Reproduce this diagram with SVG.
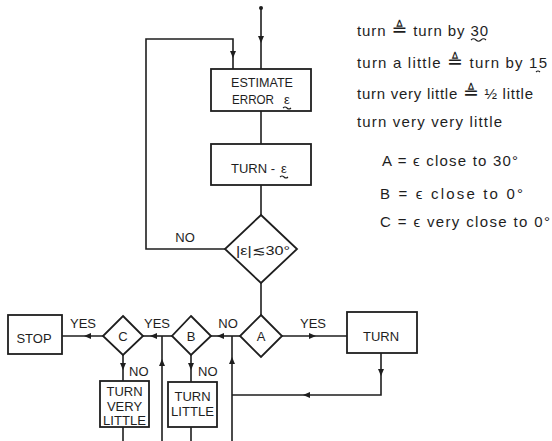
<svg xmlns="http://www.w3.org/2000/svg" width="552" height="441" viewBox="0 0 552 441">
<style>
.ln{fill:none;stroke:#1e1e1e;stroke-width:1.6}
.bx{fill:#fff;stroke:#1e1e1e;stroke-width:1.8}
.t{font-family:"Liberation Sans",Arial,sans-serif;font-size:13px;fill:#1e1e1e}
.c{text-anchor:middle}
.r{font-family:"Liberation Sans",Arial,sans-serif;font-size:15px;fill:#1e1e1e}
.q{font-family:"DejaVu Sans",sans-serif;font-size:19px}
.w{fill:none;stroke:#1e1e1e;stroke-width:1.1}
</style>
<defs>
<path id="ah" d="M0,0 L-7,-3 L-7,3 Z" fill="#1e1e1e"/>
</defs>
<rect width="552" height="441" fill="#fff"/>
<g id="connectors">
<circle cx="261" cy="8" r="2" fill="#1e1e1e"/>
<path class="ln" d="M261,8 V69"/>
<use href="#ah" transform="translate(261,43) rotate(90)"/>
<path class="ln" d="M261,111 V144"/>
<path class="ln" d="M261,185 V215"/>
<path class="ln" d="M261,283 V315"/>
<path class="ln" d="M225,249 H146 V39 H233 V69"/>
<use href="#ah" transform="translate(233,58) rotate(90)"/>
<path class="ln" d="M282,336 H347"/>
<use href="#ah" transform="translate(316,336)"/>
<path class="ln" d="M381,353 V395 H232"/>
<use href="#ah" transform="translate(381,376) rotate(90)"/>
<use href="#ah" transform="translate(303,395) rotate(180)"/>
<path class="ln" d="M232,441 V336"/>
<use href="#ah" transform="translate(232,357) rotate(-90)"/>
<path class="ln" d="M240,336 H211"/>
<use href="#ah" transform="translate(217,336) rotate(180)"/>
<path class="ln" d="M191,355 V382"/>
<use href="#ah" transform="translate(191,370) rotate(90)"/>
<path class="ln" d="M191,427 V441"/>
<path class="ln" d="M172,336 H143"/>
<use href="#ah" transform="translate(150,336) rotate(180)"/>
<path class="ln" d="M162,441 V336"/>
<use href="#ah" transform="translate(162,359) rotate(-90)"/>
<path class="ln" d="M123,355 V381"/>
<use href="#ah" transform="translate(123,370) rotate(90)"/>
<path class="ln" d="M123,427 V441"/>
<path class="ln" d="M103,336 H62"/>
<use href="#ah" transform="translate(84,336) rotate(180)"/>
<text class="t c" x="185" y="242">NO</text>
<text class="t c" x="313" y="328">YES</text>
<text class="t c" x="228" y="328">NO</text>
<text class="t c" x="157" y="328">YES</text>
<text class="t c" x="83" y="328">YES</text>
<text class="t" x="198" y="376">NO</text>
<text class="t" x="129" y="376">NO</text>
</g>
<g id="estimate">
<rect class="bx" x="211" y="69" width="100" height="42"/>
<text class="t c" x="262" y="87" textLength="62" lengthAdjust="spacingAndGlyphs">ESTIMATE</text>
<text class="t" x="232" y="104" textLength="42" lengthAdjust="spacingAndGlyphs">ERROR</text>
<text class="t" x="284" y="104">ε</text>
<path class="w" d="M283,108 q2,-2 4,0 t4,0"/>
</g>
<g id="turn-e">
<rect class="bx" x="211" y="144" width="100" height="41"/>
<text class="t" x="231" y="173">TURN -</text>
<text class="t" x="281" y="173">ε</text>
<path class="w" d="M280,177 q2,-2 4,0 t4,0"/>
</g>
<g id="check">
<polygon class="bx" points="261,215 297,249 261,283 225,249"/>
<text class="t" x="236" y="255" font-size="14" textLength="54" lengthAdjust="spacingAndGlyphs">|ε|≲30°</text>
</g>
<g id="A">
<polygon class="bx" points="261,315 282,336 261,357 240,336"/>
<text class="t c" x="261" y="341">A</text>
</g>
<g id="B">
<polygon class="bx" points="191,316 211,336 191,355 172,336"/>
<text class="t c" x="191" y="341">B</text>
</g>
<g id="C">
<polygon class="bx" points="123,316 143,336 123,355 103,336"/>
<text class="t c" x="123" y="341">C</text>
</g>
<g id="turn">
<rect class="bx" x="347" y="312" width="70" height="41"/>
<text class="t c" x="381" y="341">TURN</text>
</g>
<g id="stop">
<rect class="bx" x="8" y="315" width="54" height="39"/>
<text class="t c" x="34" y="343">STOP</text>
</g>
<g id="turn-very-little">
<rect class="bx" x="100" y="381" width="49" height="46"/>
<text class="t c" x="124.5" y="396">TURN</text>
<text class="t c" x="124.5" y="410.5">VERY</text>
<text class="t c" x="124.5" y="425" textLength="43" lengthAdjust="spacingAndGlyphs">LITTLE</text>
</g>
<g id="turn-little">
<rect class="bx" x="168" y="382" width="49" height="45"/>
<text class="t c" x="192.5" y="401">TURN</text>
<text class="t c" x="192.5" y="416" textLength="43" lengthAdjust="spacingAndGlyphs">LITTLE</text>
</g>
<g id="legend">
<text class="r" x="357" y="36" textLength="131" lengthAdjust="spacing">turn <tspan class="q">≜</tspan> turn by 30</text>
<path class="w" d="M471,40 q2.5,-2.5 5,0 t5,0 t5,0"/>
<text class="r" x="357" y="68" textLength="190" lengthAdjust="spacing">turn a little <tspan class="q">≜</tspan> turn by 15</text>
<path class="w" d="M536,72 q2,-2 4,0"/>
<text class="r" x="357" y="99" textLength="176" lengthAdjust="spacing">turn very little <tspan class="q">≜</tspan> ½ little</text>
<text class="r" x="357" y="127" textLength="145" lengthAdjust="spacing">turn very very little</text>
<text class="r" x="382" y="166" textLength="136" lengthAdjust="spacing">A = ϵ close to 30°</text>
<text class="r" x="380" y="199" textLength="143" lengthAdjust="spacing">B = ϵ close to 0°</text>
<text class="r" x="380" y="227" textLength="170" lengthAdjust="spacing">C = ϵ very close to 0°</text>
</g>
</svg>
